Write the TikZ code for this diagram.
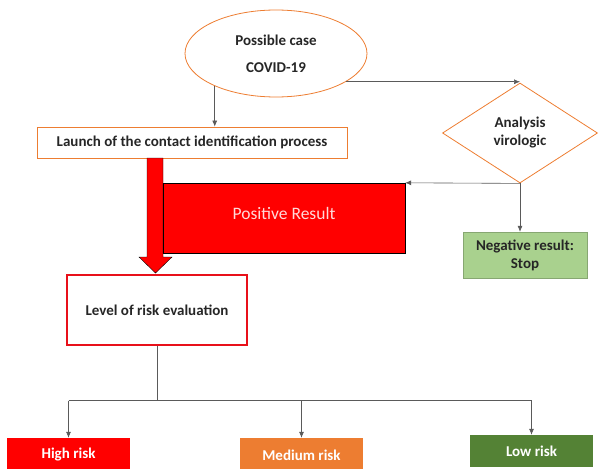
\documentclass[tikz,border=0pt]{standalone}
\usepackage{fontspec}
\setmainfont{Carlito}
\usetikzlibrary{shapes.geometric, arrows.meta}
\definecolor{accorange}{HTML}{ED7D31}
\definecolor{accgreen}{HTML}{548235}
\definecolor{accred}{HTML}{E8101A}
\definecolor{lightgreen}{HTML}{A9D18E}
\definecolor{linegray}{HTML}{5A5A5A}

\begin{document}
\begin{tikzpicture}[x=1pt, y=-1pt,
  every node/.style = {font=\fontsize{15}{17}\selectfont\bfseries, text=black!85},
  ovalbox/.style = {ellipse, draw=accorange, thick, minimum width=182, minimum height=87, align=center},
  procbox/.style = {rectangle, draw=accorange, thick, inner sep=0},
  decbox/.style = {diamond, draw=accorange, thick, minimum width=155, minimum height=100, inner sep=0, align=center},
  evalbox/.style = {rectangle, draw=accred, line width=1.2pt, inner sep=0},
  riskbox/.style = {rectangle, inner sep=0, minimum width=123, text=white},
  arr/.style = {draw=linegray, semithick, -{Latex[length=6pt, width=5pt]}}]
\useasboundingbox (0,0) rectangle (599,468);

% top of the flow
\path (276,53.5) node[ovalbox] (case) {Possible case\\[10pt] COVID-19};
\path (192,142.5) node[procbox, minimum width=310, minimum height=31] (launch) {Launch of the contact identification process};
\path (520,133) node[decbox] (dia) {Analysis\\[1pt] virologic};
\draw[arr] (case.208) -- (case.208 |- launch.north);
\draw[arr] (case.-22) -- (case.-22 -| dia.north);

% big red arrow and positive result
\draw[fill=red, thin] (147,158) -- (163,158) -- (163,257) -- (172,257) -- (155.5,273)
  -- (139,257) -- (147,257) -- cycle;
\path (284,218) node[rectangle, draw=black, fill=red, thin, minimum width=242, minimum height=70] (pos) {};
\path (pos.center) ++(0,-5) node[font=\fontsize{17.5}{19}\selectfont, text=red!15] (postext) {Positive Result};
\path (525,255) node[rectangle, fill=lightgreen, draw=lightgreen!80!black, minimum width=124, minimum height=46,
  align=center, inner sep=0] (neg) {Negative result:\\[1pt] Stop};
\draw[arr] (dia.south) -- (pos.north east);
\draw[arr] (dia.south) -- (dia.south |- neg.north);

% risk evaluation
\path (157,310) node[evalbox, minimum width=180, minimum height=70] (level) {Level of risk evaluation};
\path (68.5,455) node[riskbox, fill=red, minimum height=34] (high) {High risk};
\path (301.5,455) node[riskbox, fill=accorange, minimum height=34] (medium) {Medium risk};
\path (531.5,451) node[riskbox, fill=accgreen, minimum height=32] (low) {Low risk};
\draw[draw=linegray, semithick] (level.south) -- ++(0,55) coordinate (split);
\draw[draw=linegray, semithick] (high.north |- split) -- (low.north |- split);
\draw[arr] (high.north |- split) -- (high.north);
\draw[arr] (medium.north |- split) -- (medium.north);
\draw[arr] (low.north |- split) -- (low.north);
\end{tikzpicture}
\end{document}
